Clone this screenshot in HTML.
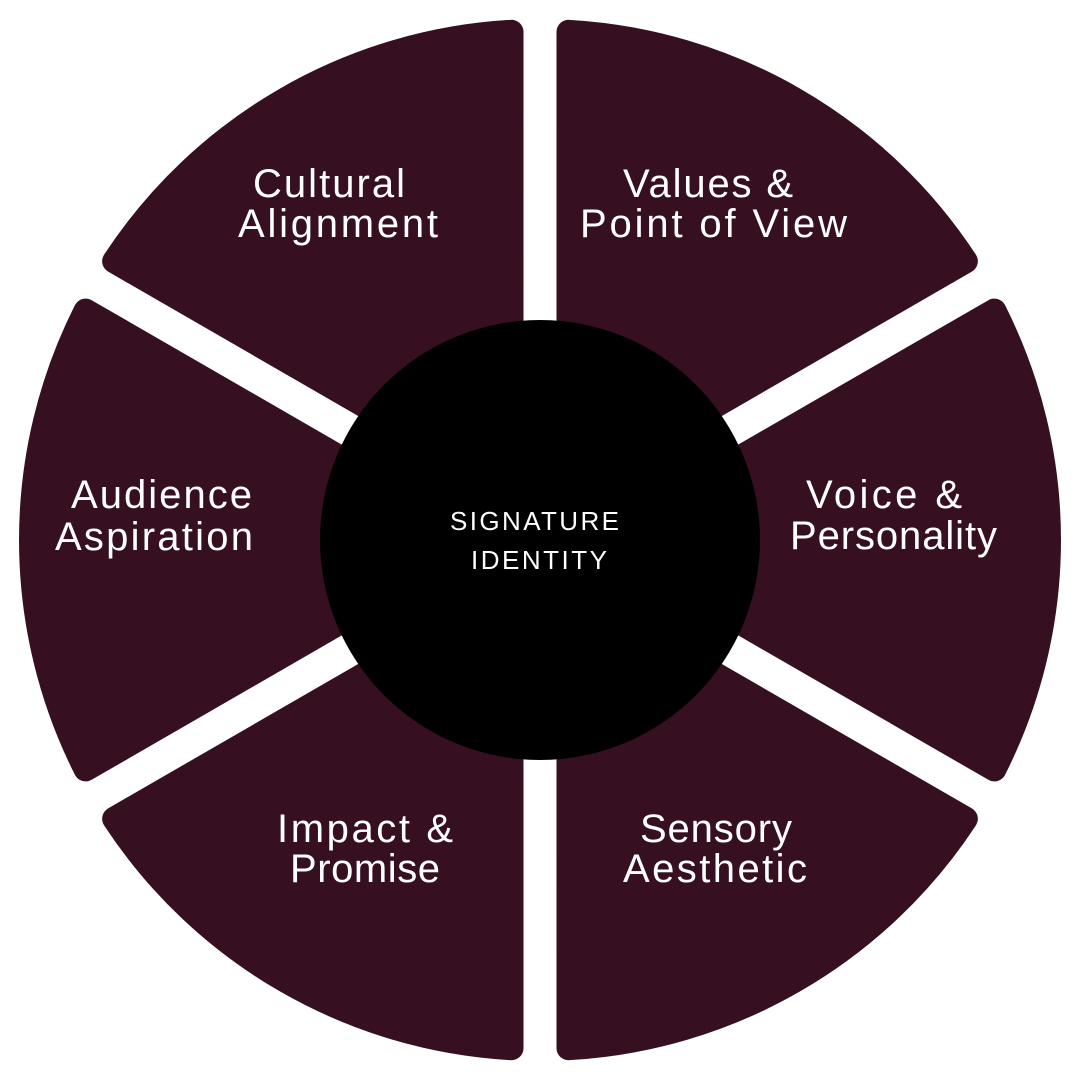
<!DOCTYPE html>
<html>
<head>
<meta charset="utf-8">
<style>
  html, body { margin: 0; padding: 0; background: #ffffff; }
  body { width: 1080px; height: 1080px; overflow: hidden; }
  svg { display: block; }
  .lbl { font-family: "Liberation Sans", sans-serif; font-size: 40px; fill: #ffffff; }
  .ctr { font-family: "Liberation Sans", sans-serif; font-size: 26px; fill: #ffffff; }
</style>
</head>
<body>
<svg width="1080" height="1080" viewBox="0 0 1080 1080" xmlns="http://www.w3.org/2000/svg">
  <rect x="0" y="0" width="1080" height="1080" fill="#ffffff"/>
  <g fill="#360f20" stroke="#360f20" stroke-width="24" stroke-linejoin="round">
    <path d="M 597 540 L 994.35 310.58 A 509 509 0 0 1 994.35 769.42 Z" transform="rotate(0 540 540)"/>
    <path d="M 597 540 L 994.35 310.58 A 509 509 0 0 1 994.35 769.42 Z" transform="rotate(60 540 540)"/>
    <path d="M 597 540 L 994.35 310.58 A 509 509 0 0 1 994.35 769.42 Z" transform="rotate(120 540 540)"/>
    <path d="M 597 540 L 994.35 310.58 A 509 509 0 0 1 994.35 769.42 Z" transform="rotate(180 540 540)"/>
    <path d="M 597 540 L 994.35 310.58 A 509 509 0 0 1 994.35 769.42 Z" transform="rotate(240 540 540)"/>
    <path d="M 597 540 L 994.35 310.58 A 509 509 0 0 1 994.35 769.42 Z" transform="rotate(300 540 540)"/>
  </g>
  <circle cx="540" cy="540" r="220" fill="#000000"/>

  <text class="lbl" x="253" y="197" textLength="152" lengthAdjust="spacing">Cultural</text>
  <text class="lbl" x="238" y="237" textLength="200" lengthAdjust="spacing">Alignment</text>

  <text class="lbl" x="623" y="197" textLength="170" lengthAdjust="spacing">Values &amp;</text>
  <text class="lbl" x="580" y="237" textLength="267" lengthAdjust="spacing">Point of View</text>

  <text class="lbl" x="71" y="508" textLength="181" lengthAdjust="spacing">Audience</text>
  <text class="lbl" x="55" y="550" textLength="198" lengthAdjust="spacing">Aspiration</text>

  <text class="lbl" x="806" y="508" textLength="156" lengthAdjust="spacing">Voice &amp;</text>
  <text class="lbl" x="790" y="549" textLength="207" lengthAdjust="spacing">Personality</text>

  <text class="lbl" x="277" y="842" textLength="176" lengthAdjust="spacing">Impact &amp;</text>
  <text class="lbl" x="290" y="882" textLength="150" lengthAdjust="spacing">Promise</text>

  <text class="lbl" x="640" y="842" textLength="152" lengthAdjust="spacing">Sensory</text>
  <text class="lbl" x="623" y="882" textLength="184" lengthAdjust="spacing">Aesthetic</text>

  <text class="ctr" x="450" y="530" textLength="169" lengthAdjust="spacing">SIGNATURE</text>
  <text class="ctr" x="471" y="569" textLength="136" lengthAdjust="spacing">IDENTITY</text>
</svg>
</body>
</html>
